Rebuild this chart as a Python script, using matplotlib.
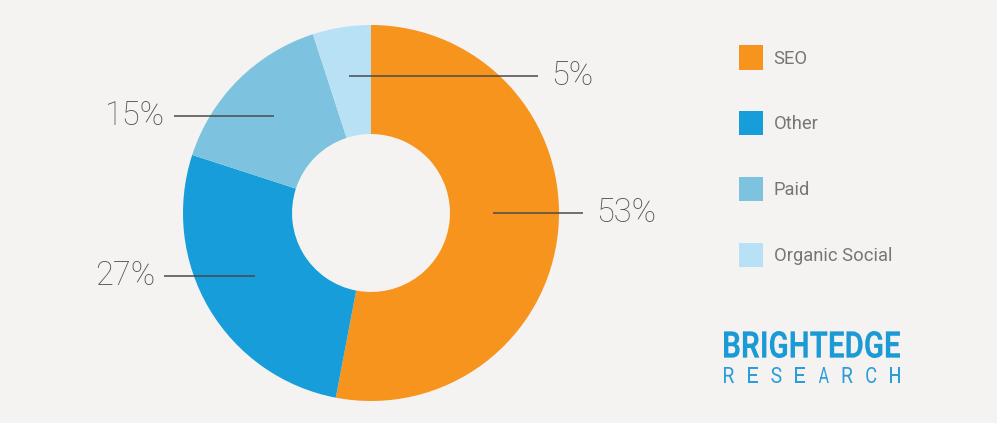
import numpy as np
import matplotlib
matplotlib.use("Agg")
import matplotlib.pyplot as plt
from matplotlib.textpath import TextPath
from matplotlib.patches import PathPatch
from matplotlib.font_manager import FontProperties
from matplotlib.transforms import Affine2D

# Datos del gráfico
categorias = ["SEO", "Other", "Paid", "Organic Social"]
valores = [53, 27, 15, 5]
etiquetas = ["53%", "27%", "15%", "5%"]
colores = ["#F7941E", "#179DD9", "#7DC3E0", "#B9E1F5"]

FONDO = "#F5F3F1"
AZUL_LOGO = "#1B9AD6"

fig = plt.figure(figsize=(9.97, 4.23), dpi=100, facecolor=FONDO)

# Ejes del donut (centro ~ (371, 213) px, radio ~188 px)
W, H = 997, 423
cx, cy, r = 371, 213, 188
ax = fig.add_axes([(cx - r) / W, (H - cy - r) / H, 2 * r / W, 2 * r / H])
ax.set_facecolor(FONDO)

wedges, _ = ax.pie(
    valores,
    colors=colores,
    startangle=90,
    counterclock=False,
    radius=1,
    wedgeprops=dict(width=0.58, edgecolor="none", linewidth=0),
)
ax.set_xlim(-1, 1)
ax.set_ylim(-1, 1)
ax.set_aspect("equal")
ax.axis("off")

# Etiquetas con líneas horizontales (ajuste fino del ángulo y del radio)
fin_linea = [1.13, -1.10, -1.05, 0.89]
ajuste_ang = [5.4, -2.0, 0.0, 0.0]
radio_ancla = [0.65, 0.70, 0.73, 0.74]
for w, etiqueta, xf, da, ra in zip(wedges, etiquetas, fin_linea,
                                    ajuste_ang, radio_ancla):
    ang = np.deg2rad((w.theta1 + w.theta2) / 2 + da)
    x0, y0 = ra * np.cos(ang), ra * np.sin(ang)
    ax.plot([x0, xf], [y0, y0], color="#4a4a4a", lw=1.1, clip_on=False,
            solid_capstyle="butt")
    if xf > 0:
        ax.text(xf + 0.07, y0, etiqueta, ha="left", va="center",
                fontsize=23.5, color="#505050", family="Roboto",
                fontweight="light", clip_on=False)
    else:
        ax.text(xf - 0.05, y0, etiqueta, ha="right", va="center",
                fontsize=23.5, color="#505050", family="Roboto",
                fontweight="light", clip_on=False)

# Leyenda
leg = fig.legend(
    wedges,
    categorias,
    loc="upper left",
    bbox_to_anchor=(722 / W, 1 - 29 / H),
    frameon=False,
    handlelength=1.32,
    handleheight=1.65,
    handletextpad=0.6,
    labelspacing=2.27,
    prop=dict(family="Roboto", weight="normal", size=13.2),
)
for t in leg.get_texts():
    t.set_color("#787572")

# Logo BRIGHTEDGE RESEARCH dibujado con trayectorias de texto
ov = fig.add_axes([0, 0, 1, 1], facecolor="none")
ov.set_xlim(0, W)
ov.set_ylim(H, 0)
ov.axis("off")


def dibujar_caja(texto, x0, x1, ytop, ybot, peso, color):
    fp = FontProperties(family="Roboto", weight=peso)
    tp = TextPath((0, 0), texto, size=10, prop=fp)
    ext = tp.get_extents()
    sx = (x1 - x0) / ext.width
    sy = (ybot - ytop) / ext.height
    tr = Affine2D().translate(-ext.x0, -ext.y0).scale(sx, -sy).translate(x0, ybot)
    ov.add_patch(PathPatch(tr.transform_path(tp), facecolor=color,
                           edgecolor="none"))


dibujar_caja("BRIGHTEDGE", 724, 900, 331, 358, "bold", AZUL_LOGO)
letras = "RESEARCH"
xs = np.linspace(724, 890, len(letras))
for xl, letra in zip(xs, letras):
    dibujar_caja(letra, xl, xl + 10, 367, 383, "normal", "#2A9ED8")

fig.savefig("out.png", dpi=100, facecolor=FONDO)
